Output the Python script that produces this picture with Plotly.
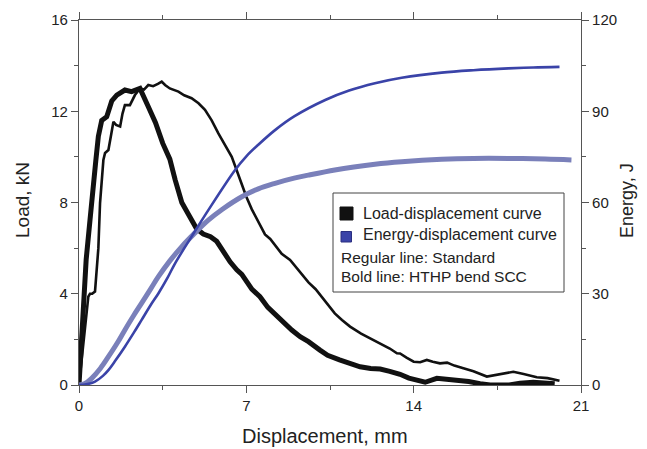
import plotly.graph_objects as go

# ---------------- data ----------------
std_load_x = [0, 0.1, 0.2, 0.3, 0.39, 0.46, 0.55, 0.67, 0.75, 0.81, 0.88, 0.95, 1.02, 1.09, 1.23,
              1.35, 1.44, 1.55, 1.72, 1.82, 1.92, 2.13, 2.34, 2.55, 2.72, 2.9, 3.1, 3.3, 3.46, 3.6,
              3.8, 4.16, 4.4, 4.71, 5.0, 5.27, 5.55, 5.83, 6.1, 6.39, 6.6, 6.81, 7.0, 7.23, 7.5,
              7.78, 8.0, 8.2, 8.48, 8.83, 9.04, 9.3, 9.6, 9.9, 10.15, 10.5, 10.7, 11.0, 11.34, 11.8,
              12.3, 12.6, 13.0, 13.3, 13.43, 13.7, 14.0, 14.27, 14.55, 14.8, 15.1, 15.4, 15.7, 16.08,
              16.5, 17.06, 17.5, 18.17, 18.6, 19.15, 19.6, 20.1]
std_load_y = [0, 1.0, 2.0, 3.0, 3.87, 4.0, 4.0, 4.1, 5.0, 6.0, 7.97, 9.0, 9.86, 10.17, 10.3,
              11.0, 11.54, 11.4, 11.33, 11.9, 12.27, 12.27, 12.71, 13.0, 12.95, 13.15, 13.1, 13.2, 13.3, 13.15,
              13.0, 12.86, 12.7, 12.57, 12.35, 12.06, 11.6, 11.03, 10.5, 10.0, 9.4, 8.75, 8.25, 7.7, 7.15,
              6.6, 6.4, 6.15, 5.75, 5.48, 5.2, 4.9, 4.5, 4.2, 3.87, 3.4, 3.14, 2.85, 2.56, 2.25,
              1.97, 1.83, 1.6, 1.39, 1.38, 1.2, 1.02, 1.0, 1.1, 1.02, 0.95, 0.98, 0.85, 0.73,
              0.6, 0.37, 0.45, 0.58, 0.48, 0.34, 0.3, 0.19]

scc_load_x = [0, 0.18, 0.3, 0.46, 0.6, 0.7, 0.81, 0.95, 1.16, 1.37, 1.58, 1.75, 1.92, 2.2, 2.48,
              2.55, 2.9, 3.2, 3.5, 3.8, 4.02, 4.3, 4.57, 4.92, 5.2, 5.5, 5.76, 5.97, 6.32, 6.6,
              6.81, 7.23, 7.57, 7.9, 8.2, 8.4, 8.9, 9.25, 9.6, 10.08, 10.4, 10.9, 11.3, 11.76, 12.2,
              12.6, 13.0, 13.43, 13.8, 14.13, 14.48, 14.97, 15.4, 15.8, 16.3, 16.78, 17.2, 18.0, 18.45,
              19.0, 19.5, 19.9]
scc_load_y = [0, 3.73, 5.5, 7.23, 8.5, 9.8, 10.9, 11.6, 11.76, 12.45, 12.71, 12.8, 12.93, 12.86, 12.93,
              13.0, 12.2, 11.5, 10.6, 9.9, 9.0, 8.0, 7.5, 6.85, 6.62, 6.5, 6.3, 5.95, 5.4, 5.05,
              4.85, 4.2, 3.87, 3.4, 3.1, 2.85, 2.41, 2.12, 1.9, 1.53, 1.3, 1.1, 0.95, 0.8, 0.72,
              0.7, 0.6, 0.47, 0.3, 0.2, 0.12, 0.29, 0.25, 0.22, 0.15, 0.06, 0.0, 0.0, 0.08,
              0.12, 0.1, 0.05]

std_energy_x = [0, 0.3, 0.67, 1.0, 1.23, 1.5, 1.92, 2.3, 2.62, 3.0, 3.32, 3.7, 4.02, 4.71, 5.41,
                6.53, 7.0, 7.5, 8.2, 9.0, 10.3, 11.3, 12.38, 13.5, 15.17, 16.5, 17.96, 19.0, 20.1]
std_energy_y = [0, 0.2, 1.1, 3.0, 4.9, 7.8, 12.6, 17.3, 21.4, 26.3, 30.1, 35.2, 40.0, 48.8, 57.5,
                70.7, 75.2, 79.0, 83.8, 88.3, 93.7, 96.8, 99.2, 101.0, 102.7, 103.5, 104.1, 104.4, 104.6]

scc_energy_x = [0, 0.25, 0.53, 0.9, 1.23, 1.6, 1.92, 2.3, 2.62, 3.0, 3.32, 3.8, 4.3, 4.8, 5.41,
                6.0, 6.81, 7.5, 8.2, 9.0, 9.6, 10.7, 11.5, 12.38, 13.5, 15.17, 16.5, 17.96, 19.5, 20.6]
scc_energy_y = [0, 0.5, 2.2, 5.5, 9.3, 13.8, 18.1, 23.0, 26.9, 31.6, 35.6, 40.8, 45.5, 49.6, 54.2,
                57.8, 61.9, 64.5, 66.3, 68.0, 69.0, 70.7, 71.7, 72.6, 73.4, 74.2, 74.5, 74.5, 74.3, 74.0]

x_ticks = [0, 7, 14, 21]
load_ticks = [0, 4, 8, 12, 16]
energy_ticks = [0, 30, 60, 90, 120]

legend_items = ["Load-displacement curve", "Energy-displacement curve"]
legend_notes = ["Regular line: Standard", "Bold line: HTHP bend SCC"]

# ---------------- styles ----------------
FONT = "Liberation Sans, Arial, Helvetica, sans-serif"
TXT = "#222222"
AX = "#555555"
BLACK = "#111111"
DARK_BLUE = "#3a43a8"
LIGHT_BLUE = "#7a80ba"

fig = go.Figure()
fig.add_trace(go.Scatter(x=std_load_x, y=std_load_y, mode="lines",
                         line=dict(color=BLACK, width=2.6), showlegend=False, yaxis="y"))
fig.add_trace(go.Scatter(x=scc_load_x, y=scc_load_y, mode="lines",
                         line=dict(color=BLACK, width=5), showlegend=False, yaxis="y"))
fig.add_trace(go.Scatter(x=scc_energy_x, y=scc_energy_y, mode="lines",
                         line=dict(color=LIGHT_BLUE, width=5, shape="spline", smoothing=1.0),
                         showlegend=False, yaxis="y2"))
fig.add_trace(go.Scatter(x=std_energy_x, y=std_energy_y, mode="lines",
                         line=dict(color=DARK_BLUE, width=2.6, shape="spline", smoothing=1.0),
                         showlegend=False, yaxis="y2"))

axis_common = dict(showgrid=False, zeroline=False, showline=True, linecolor=AX, linewidth=1.2,
                   ticks="outside", tickcolor=AX, tickwidth=1.2, ticklen=7, automargin=False,
                   tickfont=dict(family=FONT, size=15, color=TXT))

fig.update_layout(
    width=647, height=449,
    margin=dict(l=79, r=66, t=20, b=64, autoexpand=False),
    paper_bgcolor="white", plot_bgcolor="white",
    showlegend=False,
    xaxis=dict(range=[0, 21], tickvals=x_ticks, ticktext=[str(v) for v in x_ticks],
               mirror="ticks",
               minor=dict(dtick=3.5, ticks="outside", ticklen=4, tickcolor=AX, tickwidth=1.2),
               **axis_common),
    yaxis=dict(range=[0, 16], tickvals=load_ticks, ticktext=[str(v) for v in load_ticks],
               minor=dict(dtick=2, ticks="outside", ticklen=4, tickcolor=AX, tickwidth=1.2),
               **axis_common),
    yaxis2=dict(range=[0, 120], tickvals=energy_ticks, ticktext=[str(v) for v in energy_ticks],
                overlaying="y", side="right",
                minor=dict(dtick=15, ticks="outside", ticklen=4, tickcolor=AX, tickwidth=1.2),
                **axis_common),
)

# pixel helpers for paper coordinates
W, H = 647, 449
L, R, T, B = 79, 66, 20, 64
pw, ph = W - L - R, H - T - B

def px(xp):
    return (xp - L) / pw

def py(yp):
    return 1 - (yp - T) / ph

shapes = [
    dict(type="rect", xref="paper", yref="paper", x0=px(333), x1=px(564), y0=py(292), y1=py(193),
         line=dict(color="#444444", width=1), fillcolor="white", layer="above"),
    dict(type="rect", xref="paper", yref="paper", x0=px(340), x1=px(353), y0=py(220), y1=py(207),
         line=dict(color=BLACK, width=1), fillcolor=BLACK, layer="above"),
    dict(type="rect", xref="paper", yref="paper", x0=px(341), x1=px(351.5), y0=py(242), y1=py(231.5),
         line=dict(color="#2a2f80", width=1), fillcolor=DARK_BLUE, layer="above"),
]
fig.update_layout(shapes=shapes)

ann = []
for txt, yc in zip(legend_items, [213.5, 234.5]):
    ann.append(dict(text=txt, xref="paper", yref="paper", x=px(361), y=py(yc), xanchor="left",
                    yanchor="middle", showarrow=False, font=dict(family=FONT, size=16, color=TXT)))
for txt, yc in zip(legend_notes, [257.5, 276]):
    ann.append(dict(text=txt, xref="paper", yref="paper", x=px(339), y=py(yc), xanchor="left",
                    yanchor="middle", showarrow=False, font=dict(family=FONT, size=15.5, color=TXT)))

# axis titles
ann.append(dict(text="Displacement, mm", xref="paper", yref="paper", x=px(325), y=py(436),
                xanchor="center", yanchor="middle", showarrow=False,
                font=dict(family=FONT, size=20, color=TXT)))
ann.append(dict(text="Load, kN", xref="paper", yref="paper", x=px(22), y=py(200),
                xanchor="center", yanchor="middle", showarrow=False, textangle=-90,
                font=dict(family=FONT, size=19, color=TXT)))
ann.append(dict(text="Energy, J", xref="paper", yref="paper", x=px(627), y=py(201),
                xanchor="center", yanchor="middle", showarrow=False, textangle=-90,
                font=dict(family=FONT, size=18, color=TXT)))
fig.update_layout(annotations=ann)

fig.write_html("out.html", config={"displayModeBar": False},
               post_script="document.body.style.margin='0';document.body.style.overflow='hidden';")
